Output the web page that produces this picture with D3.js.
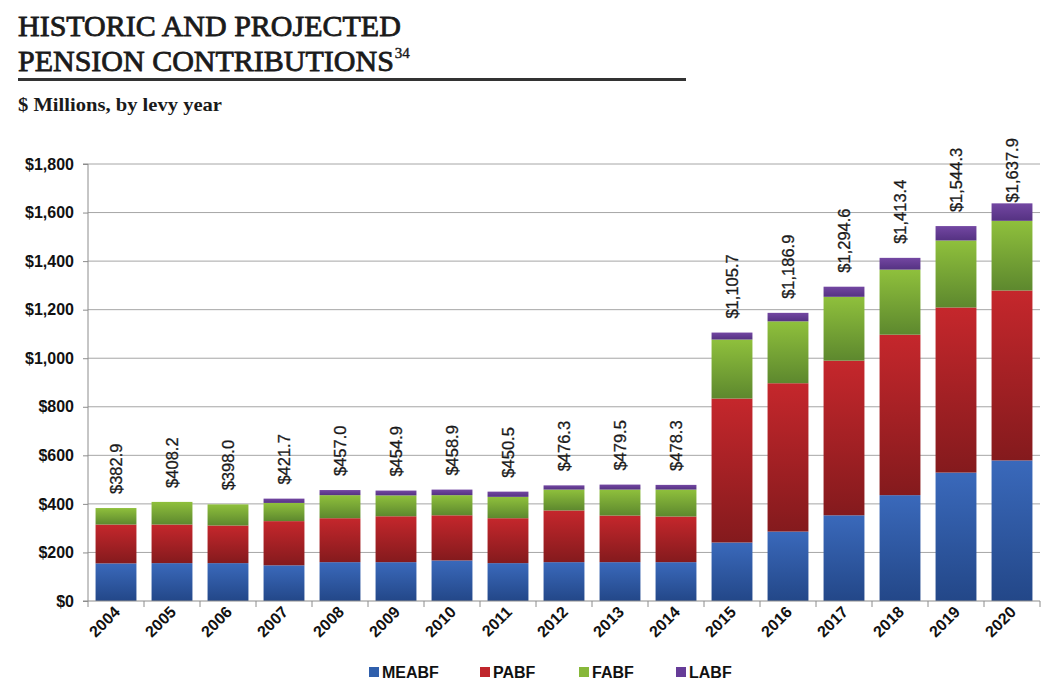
<!DOCTYPE html>
<html>
<head>
<meta charset="utf-8">
<script src="https://cdn.jsdelivr.net/npm/d3@7"></script>
<style>
  html, body { margin: 0; padding: 0; background: #fff; }
  svg { display: block; }
</style>
</head>
<body>
<svg id="chart" width="1054" height="687"></svg>
<script>
const years = ["2004","2005","2006","2007","2008","2009","2010","2011","2012","2013","2014","2015","2016","2017","2018","2019","2020"];
const seriesNames = ["MEABF","PABF","FABF","LABF"];
const MEABF = [155, 156, 156, 147, 160, 160, 167, 156, 160, 160, 160, 241, 286, 353, 436, 529, 579];
const PABF  = [160, 159, 155, 182, 181, 189, 186, 185, 213, 192, 188, 593, 611, 637, 661, 680, 700];
const FABF  = [67.9, 93.2, 87, 75, 95, 86, 83, 88, 86, 107, 111, 243, 255, 263, 268, 276, 287];
const LABF  = [0, 0, 0, 17.7, 21, 19.9, 22.9, 21.5, 17.3, 20.5, 19.3, 28.7, 34.9, 41.6, 48.4, 59.3, 71.9];
const totals = ["$382.9","$408.2","$398.0","$421.7","$457.0","$454.9","$458.9","$450.5","$476.3","$479.5","$478.3","$1,105.7","$1,186.9","$1,294.6","$1,413.4","$1,544.3","$1,637.9"];
const yTicks = [0, 200, 400, 600, 800, 1000, 1200, 1400, 1600, 1800];

const colors = {
  MEABF: ["#3a69bb", "#234788"],
  PABF:  ["#c5272c", "#841a1d"],
  FABF:  ["#8fc03c", "#5d882e"],
  LABF:  ["#7347a2", "#553282"]
};
const legendColors = {MEABF:"#2f5fac", PABF:"#c0262c", FABF:"#87b83a", LABF:"#663c98"};

const svg = d3.select("#chart");
const sans = "'Liberation Sans', Arial, sans-serif";
const serif = "'Liberation Serif', 'Times New Roman', serif";

// Title
svg.append("text").attr("x", 18).attr("y", 36)
  .attr("font-family", serif).attr("font-size", 30).attr("fill", "#1a1a1a")
  .attr("stroke", "#1a1a1a").attr("stroke-width", 0.8)
  .text("HISTORIC AND PROJECTED");
const t2 = svg.append("text").attr("x", 18).attr("y", 71)
  .attr("font-family", serif).attr("font-size", 30).attr("fill", "#1a1a1a")
  .attr("stroke", "#1a1a1a").attr("stroke-width", 0.8);
t2.append("tspan").text("PENSION CONTRIBUTIONS");
t2.append("tspan").attr("dx", 1).attr("dy", -13).attr("font-size", 15).attr("stroke-width", 0.4)
  .text("34");
svg.append("rect").attr("x", 18).attr("y", 78).attr("width", 668).attr("height", 3).attr("fill", "#333");
svg.append("text").attr("x", 18).attr("y", 111)
  .attr("font-family", serif).attr("font-size", 19).attr("font-weight", "bold").attr("fill", "#1a1a1a")
  .attr("textLength", 204).attr("lengthAdjust", "spacingAndGlyphs")
  .text("$ Millions, by levy year");

// Gradients
const defs = svg.append("defs");
seriesNames.forEach(s => {
  const g = defs.append("linearGradient").attr("id", "grad-" + s)
    .attr("x1", 0).attr("y1", 0).attr("x2", 0).attr("y2", 1);
  g.append("stop").attr("offset", "0%").attr("stop-color", colors[s][0]);
  g.append("stop").attr("offset", "100%").attr("stop-color", colors[s][1]);
});

const pLeft = 88, pRight = 1040, pTop = 164, pBottom = 601;
const x = d3.scaleBand().domain(years).range([pLeft, pRight]).paddingInner(0.27).paddingOuter(0.135);
const y = d3.scaleLinear().domain([0, 1800]).range([pBottom, pTop]);

// Gridlines
svg.append("g").selectAll("line").data(yTicks.filter(d => d > 0)).join("line")
  .attr("x1", pLeft).attr("x2", pRight).attr("y1", d => y(d)).attr("y2", d => y(d))
  .attr("stroke", "#a6a6a6").attr("stroke-width", 1);

// Y axis
const yAxis = svg.append("g").attr("transform", `translate(${pLeft},0)`)
  .call(d3.axisLeft(y).tickValues(yTicks).tickSize(5).tickPadding(9).tickFormat(d => "$" + d3.format(",")(d)));
yAxis.select(".domain").attr("stroke", "#8c8c8c").attr("d", `M-5,${y(1800)}H0V${y(0)}H-5`);
yAxis.selectAll(".tick line").attr("stroke", "#8c8c8c");
yAxis.selectAll(".tick text").attr("font-family", sans).attr("font-size", 16).attr("font-weight", "bold").attr("fill", "#111");

// Data table
const table = years.map((yr, i) => ({year: yr, MEABF: MEABF[i], PABF: PABF[i], FABF: FABF[i], LABF: LABF[i], label: totals[i]}));
const stacked = d3.stack().keys(seriesNames)(table);

svg.append("g").selectAll("g").data(stacked).join("g")
  .attr("fill", d => `url(#grad-${d.key})`)
  .selectAll("rect").data(d => d.filter(p => p[1] - p[0] > 0)).join("rect")
  .attr("x", d => x(d.data.year))
  .attr("width", x.bandwidth())
  .attr("y", d => y(d[1]))
  .attr("height", d => y(d[0]) - y(d[1]));

// X axis
const xAxis = svg.append("g").attr("transform", `translate(0,${pBottom})`)
  .call(d3.axisBottom(x).tickSize(0).tickPadding(0));
xAxis.select(".domain").attr("stroke", "#8c8c8c").attr("d", `M${pLeft},0H${pRight}`);
const step = x.step();
xAxis.append("g").selectAll("line").data(d3.range(years.length + 1)).join("line")
  .attr("x1", i => pLeft + i * step).attr("x2", i => pLeft + i * step)
  .attr("y1", 0).attr("y2", 6).attr("stroke", "#8c8c8c");
xAxis.selectAll(".tick text")
  .attr("font-family", sans).attr("font-size", 16).attr("font-weight", "bold").attr("fill", "#111")
  .attr("text-anchor", "end").attr("dy", null).attr("y", null)
  .attr("transform", "translate(5,12) rotate(-45)");

// Total labels
const labelLen = s => s.length * 8.3;
svg.append("g").selectAll("text").data(table).join("text")
  .attr("font-family", sans).attr("font-size", 16.5).attr("fill", "#1a1a1a")
  .attr("stroke", "#1a1a1a").attr("stroke-width", 0.3)
  .attr("dominant-baseline", "central")
  .attr("transform", d => {
    const tot = d.MEABF + d.PABF + d.FABF + d.LABF;
    let yy = y(tot) - 14;
    const minTop = 136;
    if (yy - labelLen(d.label) < minTop) yy = minTop + labelLen(d.label);
    return `translate(${x(d.year) + x.bandwidth() / 2},${yy}) rotate(-90)`;
  })
  .text(d => d.label);

// Legend
const legendX = [369, 480, 579, 676];
const lg = svg.append("g").selectAll("g").data(seriesNames).join("g")
  .attr("transform", (d, i) => `translate(${legendX[i]},667)`);
lg.append("rect").attr("width", 10).attr("height", 10).attr("fill", d => legendColors[d]);
lg.append("text").attr("x", 13).attr("y", 5).attr("dominant-baseline", "central")
  .attr("font-family", sans).attr("font-size", 16).attr("font-weight", "bold").attr("fill", "#111")
  .text(d => d);
</script>
</body>
</html>
